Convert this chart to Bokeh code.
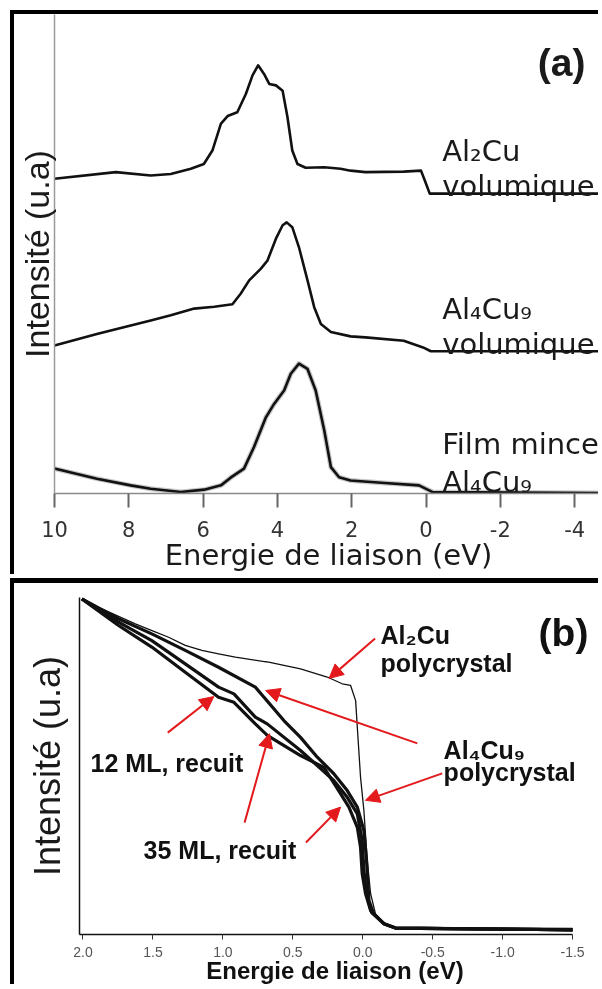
from bokeh.plotting import figure
from bokeh.models import Range1d, FixedTicker, Label, Arrow, NormalHead, ColumnDataSource
from bokeh.embed import file_html
from bokeh.resources import INLINE

# ---------------- Panel (a): valence band spectra ----------------
xa_ticks = [10, 8, 6, 4, 2, 0, -2, -4]
xa_tick_labels = ["10", "8", "6", "4", "2", "0", "-2", "-4"]

energy_al2cu = [10.0, 8.35, 7.41, 6.87, 6.33, 5.98, 5.75, 5.52, 5.34, 5.08, 4.85, 4.67, 4.52,
                4.36, 4.22, 4.04, 3.86, 3.73, 3.60, 3.46, 3.24, 2.74, 2.30, 2.03, 1.63, 0.60,
                0.135, 0.03, -0.10, -4.75]
int_al2cu = [65.7, 67.1, 66.4, 66.7, 67.8, 68.8, 71.6, 77.2, 78.8, 79.6, 83.4, 87.3, 89.4,
             87.6, 85.5, 85.2, 84.1, 78.6, 71.6, 68.8, 68.0, 68.1, 67.8, 67.4, 67.1, 67.2,
             67.4, 65.3, 62.6, 62.6]

energy_al4cu9 = [10.0, 8.86, 7.41, 6.87, 6.24, 5.70, 5.21, 4.99, 4.76, 4.45, 4.27, 4.04, 3.86,
                 3.75, 3.60, 3.42, 3.19, 3.01, 2.83, 2.56, 2.03, 1.63, 0.60, 0.08, -0.13, -4.75]
int_al4cu9 = [30.9, 33.3, 36.1, 37.2, 38.6, 39.0, 39.5, 41.7, 44.5, 46.9, 48.6, 53.2, 56.0,
              56.6, 55.6, 51.4, 44.5, 38.9, 35.4, 33.7, 32.8, 32.6, 31.9, 30.5, 29.7, 29.7]

energy_film = [10.0, 8.86, 7.95, 7.41, 6.60, 5.97, 5.52, 5.26, 4.90, 4.63, 4.31, 4.09, 3.82,
               3.64, 3.42, 3.19, 2.97, 2.74, 2.56, 2.34, 2.03, 1.11, 0.19, -0.18, -4.75]
int_film = [5.2, 3.1, 1.7, 1.0, 0.3, 0.8, 1.7, 3.3, 5.2, 9.7, 15.9, 18.7, 21.5,
            25.0, 27.1, 26.0, 21.5, 13.2, 5.5, 3.4, 2.7, 2.2, 1.7, 0.3, 0.1]

# ---------------- Panel (b): Fermi edge region ----------------
xb_ticks = [2.0, 1.5, 1.0, 0.5, 0.0, -0.5, -1.0, -1.5]
xb_tick_labels = ["2.0", "1.5", "1.0", "0.5", "0.0", "-0.5", "-1.0", "-1.5"]

energy_b_al2cu = [2.008, 1.865, 1.626, 1.507, 1.388, 1.269, 1.150, 1.031, 0.911, 0.673, 0.445,
                  0.254, 0.147, 0.087, 0.051, 0.039, 0.016, -0.008, -0.032, -0.056, -0.091,
                  -0.151, -0.199, -1.5]
int_b_al2cu = [99.6, 96.6, 92.2, 90.2, 88.2, 85.8, 84.3, 83.3, 82.3, 80.8, 78.8,
               76.4, 74.4, 73.9, 69.4, 61.5, 46.7, 36.8, 22.0, 12.1, 6.1,
               3.2, 2.2, 1.8]

energy_b_al4cu9 = [2.008, 1.746, 1.508, 1.269, 1.031, 0.768, 0.564, 0.445, 0.325, 0.207, 0.111,
                   0.039, -0.008, -0.027, -0.044, -0.079, -0.151, -0.234, -1.5]
int_b_al4cu9 = [99.6, 93.7, 89.2, 84.3, 79.3, 73.4, 63.5, 58.5, 52.6, 47.7, 42.7,
                37.8, 30.9, 22.0, 10.1, 6.1, 3.2, 1.9, 1.4]

energy_b_35ml = [2.008, 1.746, 1.508, 1.269, 1.031, 0.921, 0.768, 0.683, 0.445, 0.207, 0.111,
                 0.039, 0.004, -0.008, -0.027, -0.063, -0.151, -0.234, -1.5]
int_b_35ml = [99.6, 92.7, 87.2, 80.3, 73.4, 71.4, 64.5, 62.5, 54.6, 45.7, 40.7,
              35.8, 27.9, 19.0, 12.2, 6.5, 3.2, 1.9, 1.4]

energy_b_12ml = [2.008, 1.746, 1.508, 1.269, 1.031, 0.921, 0.768, 0.683, 0.445, 0.278, 0.159,
                 0.099, 0.039, 0.016, 0.004, -0.020, -0.056, -0.151, -0.234, -1.5]
int_b_12ml = [99.6, 91.7, 85.3, 77.8, 70.4, 68.9, 62.5, 59.1, 53.1, 49.6, 41.8,
              37.8, 31.8, 25.9, 18.0, 12.1, 7.1, 3.2, 1.9, 1.4]

# annotation arrows (start -> tip), in data units of panel (b)
arrow_x_start = [-0.088, -0.390, -0.568, 1.394, 0.845, 0.406]
arrow_y_start = [87.8, 56.7, 47.8, 59.9, 33.2, 27.3]
arrow_x_end = [0.241, 0.694, -0.019, 1.065, 0.667, 0.159]
arrow_y_end = [76.0, 72.4, 39.8, 70.6, 59.6, 37.8]

RED = "#e3191c"
ARIAL = "Liberation Sans"
WIDE = "DejaVu Sans"

# ================= figure (a) =================
pa = figure(width=588, height=564, x_range=Range1d(10.0, -4.75), y_range=Range1d(0, 100),
            output_backend="svg", toolbar_location=None,
            min_border_left=40, min_border_right=0, min_border_top=0, min_border_bottom=85,
            styles={"position": "fixed", "left": "10px", "top": "10px",
                    "border-left": "4px solid black", "border-top": "4px solid black"})
pa.grid.visible = False
pa.outline_line_color = None

pa.line(energy_film, int_film, line_color="#9a9a9a", line_width=5, line_alpha=0.55, line_join="round")
pa.line(energy_film, int_film, line_color="#111111", line_width=2.6, line_join="round")
pa.line(energy_al4cu9, int_al4cu9, line_color="#111111", line_width=2.6, line_join="round")
pa.line(energy_al2cu, int_al2cu, line_color="#111111", line_width=2.6, line_join="round")

xa = pa.xaxis[0]
xa.ticker = FixedTicker(ticks=xa_ticks)
xa.major_label_overrides = {t: s for t, s in zip(xa_ticks, xa_tick_labels)}
xa.axis_line_color = "#8a8a8a"
xa.axis_line_width = 1.5
xa.major_tick_line_color = "#666666"
xa.major_tick_line_width = 2
xa.major_tick_out = 14
xa.major_tick_in = 0
xa.minor_tick_out = 0
xa.minor_tick_in = 0
xa.major_label_standoff = 13
xa.major_label_text_font = WIDE
xa.major_label_text_font_size = "21px"
xa.major_label_text_color = "#333333"
xa.axis_label = "Energie de liaison (eV)"
xa.axis_label_text_font = WIDE
xa.axis_label_text_font_size = "29px"
xa.axis_label_text_font_style = "normal"
xa.axis_label_text_color = "#1a1a1a"
xa.axis_label_standoff = -2

ya = pa.yaxis[0]
ya.ticker = FixedTicker(ticks=[])
ya.axis_line_color = "#9a9a9a"
ya.axis_line_width = 1.5
ya.major_tick_out = 0
ya.minor_tick_out = 0
ya.axis_label = "Intensité (u.a)"
ya.axis_label_text_font = ARIAL
ya.axis_label_text_font_size = "34px"
ya.axis_label_text_font_style = "normal"
ya.axis_label_text_color = "#1a1a1a"
ya.axis_label_standoff = -1

label_style_a = dict(text_font=WIDE, text_font_size="29px", text_color="#1a1a1a",
                     text_align="left", text_baseline="alphabetic")
pa.add_layout(Label(x=-3.65, y=90.0, text="(a)", text_font=ARIAL, text_font_size="39px",
                    text_font_style="bold", text_color="#1a1a1a", text_align="center",
                    text_baseline="alphabetic"))
pa.add_layout(Label(x=-0.436, y=71.6, text="Al₂Cu", **label_style_a))
pa.add_layout(Label(x=-0.436, y=64.3, text="volumique", **label_style_a))
pa.add_layout(Label(x=-0.436, y=38.6, text="Al₄Cu₉", **label_style_a))
pa.add_layout(Label(x=-0.436, y=31.3, text="volumique", **label_style_a))
pa.add_layout(Label(x=-0.436, y=10.4, text="Film mince", **label_style_a))
pa.add_layout(Label(x=-0.436, y=2.3, text="Al₄Cu₉", **label_style_a))

# ================= figure (b) =================
pb = figure(width=588, height=406, x_range=Range1d(2.025, -1.628), y_range=Range1d(0, 100),
            output_backend="svg", toolbar_location=None,
            min_border_left=65, min_border_right=12, min_border_top=14, min_border_bottom=55,
            styles={"position": "fixed", "left": "10px", "top": "578px",
                    "border-left": "4px solid black", "border-top": "5px solid black"})
pb.grid.visible = False
pb.outline_line_color = None

pb.line(energy_b_12ml, int_b_12ml, line_color="#111111", line_width=3.2, line_join="round")
pb.line(energy_b_35ml, int_b_35ml, line_color="#111111", line_width=3.2, line_join="round")
pb.line(energy_b_al4cu9, int_b_al4cu9, line_color="#111111", line_width=3.2, line_join="round")
pb.line(energy_b_al2cu, int_b_al2cu, line_color="#111111", line_width=1.3, line_join="round")

arrow_src = ColumnDataSource(dict(x0=arrow_x_start, y0=arrow_y_start, x1=arrow_x_end, y1=arrow_y_end))
pb.add_layout(Arrow(source=arrow_src, x_start="x0", y_start="y0", x_end="x1", y_end="y1",
                    line_color=RED, line_width=2,
                    end=NormalHead(size=14, fill_color=RED, line_color=RED, line_width=1)))

xb = pb.xaxis[0]
xb.ticker = FixedTicker(ticks=xb_ticks)
xb.bounds = (-1.5, 2.025)
xb.major_label_overrides = {t: s for t, s in zip(xb_ticks, xb_tick_labels)}
xb.axis_line_color = "#111111"
xb.axis_line_width = 1.5
xb.major_tick_line_color = "#333333"
xb.major_tick_line_width = 1
xb.major_tick_out = 5
xb.major_tick_in = 0
xb.minor_tick_out = 0
xb.minor_tick_in = 0
xb.major_label_standoff = 7
xb.major_label_text_font = ARIAL
xb.major_label_text_font_size = "14px"
xb.major_label_text_color = "#555555"
xb.axis_label = "Energie de liaison (eV)"
xb.axis_label_text_font = ARIAL
xb.axis_label_text_font_size = "24px"
xb.axis_label_text_font_style = "bold"
xb.axis_label_text_color = "#111111"
xb.axis_label_standoff = -3

yb = pb.yaxis[0]
yb.ticker = FixedTicker(ticks=[])
yb.axis_line_color = "#111111"
yb.axis_line_width = 1.5
yb.major_tick_out = 0
yb.minor_tick_out = 0
yb.axis_label = "Intensité (u.a)"
yb.axis_label_text_font = ARIAL
yb.axis_label_text_font_size = "36px"
yb.axis_label_text_font_style = "normal"
yb.axis_label_text_color = "#1a1a1a"
yb.axis_label_standoff = 12

label_style_b = dict(text_font=ARIAL, text_font_size="25px", text_font_style="bold",
                     text_color="#111111", text_align="left", text_baseline="alphabetic")
pb.add_layout(Label(x=-1.435, y=89.6, text="(b)", text_font=ARIAL, text_font_size="39px",
                    text_font_style="bold", text_color="#111111", text_align="center",
                    text_baseline="alphabetic"))
pb.add_layout(Label(x=-0.127, y=89.0, text="Al₂Cu", **label_style_b))
pb.add_layout(Label(x=-0.127, y=80.7, text="polycrystal", **label_style_b))
pb.add_layout(Label(x=-0.578, y=54.6, text="Al₄Cu₉", **label_style_b))
pb.add_layout(Label(x=-0.578, y=48.1, text="polycrystal", **label_style_b))
pb.add_layout(Label(x=1.946, y=51.0, text="12 ML, recuit", **label_style_b))
pb.add_layout(Label(x=1.567, y=25.2, text="35 ML, recuit", **label_style_b))

open("out.html", "w").write(file_html([pa, pb], INLINE))
